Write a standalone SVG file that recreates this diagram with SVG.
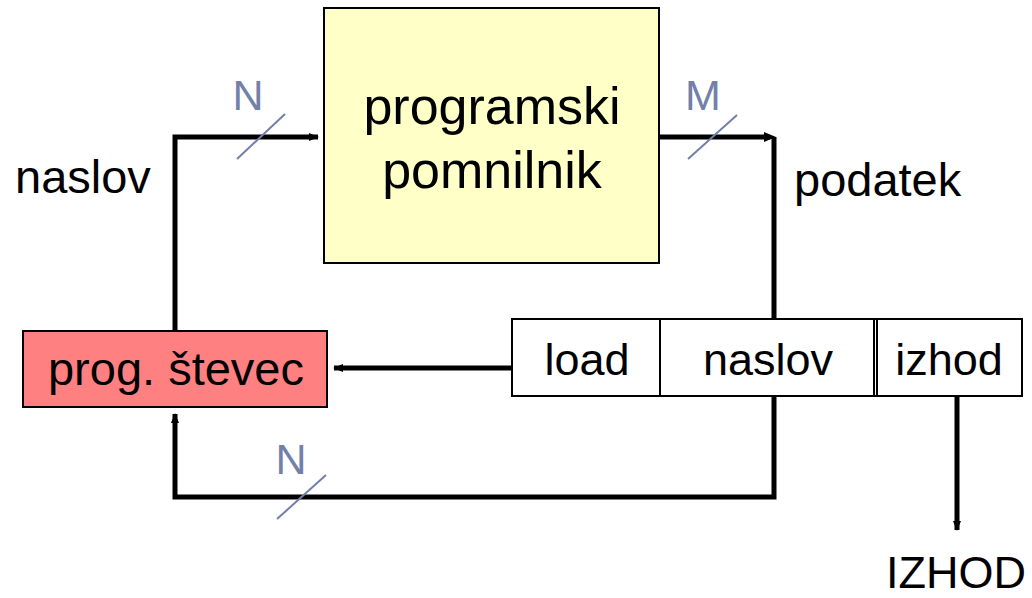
<svg xmlns="http://www.w3.org/2000/svg" width="1032" height="598" viewBox="0 0 1032 598">
<defs>
<marker id="ah" markerWidth="10" markerHeight="8" refX="9" refY="4" orient="auto" markerUnits="userSpaceOnUse">
<path d="M0,0 L10,4 L0,8 Z" fill="#000"/>
</marker>
<style>
text{font-family:"Liberation Sans",Arial,sans-serif;fill:#000}
.big{font-size:52px}
.lbl{font-size:45px}
.side{font-size:47px}
.bus{font-size:43px;fill:#7280AA}
.slash{stroke:#7280AA;stroke-width:2}
.w{fill:none;stroke:#000;stroke-width:5}
.box{stroke:#000;stroke-width:2}
</style>
</defs>
<g id="connectors">
<polyline class="w" points="175,331 175,137 318,137" marker-end="url(#ah)"/>
<polyline class="w" points="659,137 770,137"/>
<path d="M764,132 L776,137 L764,142 Z" fill="#000"/>
<line class="w" x1="774" y1="137" x2="774" y2="319"/>
<line class="w" x1="512" y1="368" x2="334" y2="368" marker-end="url(#ah)"/>
<polyline class="w" points="774,396 774,497 175,497 175,414" marker-end="url(#ah)"/>
<line class="w" x1="957" y1="396" x2="957" y2="530" marker-end="url(#ah)"/>
<line class="slash" x1="237" y1="159" x2="285" y2="114"/>
<line class="slash" x1="688" y1="159" x2="737" y2="115"/>
<line class="slash" x1="277" y1="519" x2="326" y2="475"/>
</g>
<g id="pomnilnik">
<rect class="box" x="324" y="8" width="335" height="255" fill="#FFFFC8"/>
<text class="big" x="492" y="124" text-anchor="middle">programski</text>
<text class="big" x="492" y="188" text-anchor="middle">pomnilnik</text>
</g>
<g id="stevec">
<rect class="box" x="23" y="331" width="304" height="76" fill="#FF8080"/>
<text x="176" y="385" text-anchor="middle" style="font-size:47px">prog. števec</text>
</g>
<g id="register">
<rect class="box" x="512" y="319" width="510" height="77" fill="#fff"/>
<line class="box" x1="660" y1="319" x2="660" y2="396"/>
<line class="box" x1="874" y1="319" x2="874" y2="396"/>
<line class="box" x1="877" y1="319" x2="877" y2="396"/>
<text class="lbl" x="587" y="375" text-anchor="middle">load</text>
<text class="lbl" x="768" y="375" text-anchor="middle">naslov</text>
<text class="lbl" x="949" y="375" text-anchor="middle">izhod</text>
</g>
<g id="labels">
<text class="side" x="15" y="193">naslov</text>
<text class="side" x="794" y="196">podatek</text>
<text class="bus" x="248" y="110" text-anchor="middle">N</text>
<text class="bus" x="703" y="110" text-anchor="middle">M</text>
<text class="bus" x="291" y="474" text-anchor="middle">N</text>
<text class="lbl" x="956" y="588" text-anchor="middle">IZHOD</text>
</g>
</svg>
